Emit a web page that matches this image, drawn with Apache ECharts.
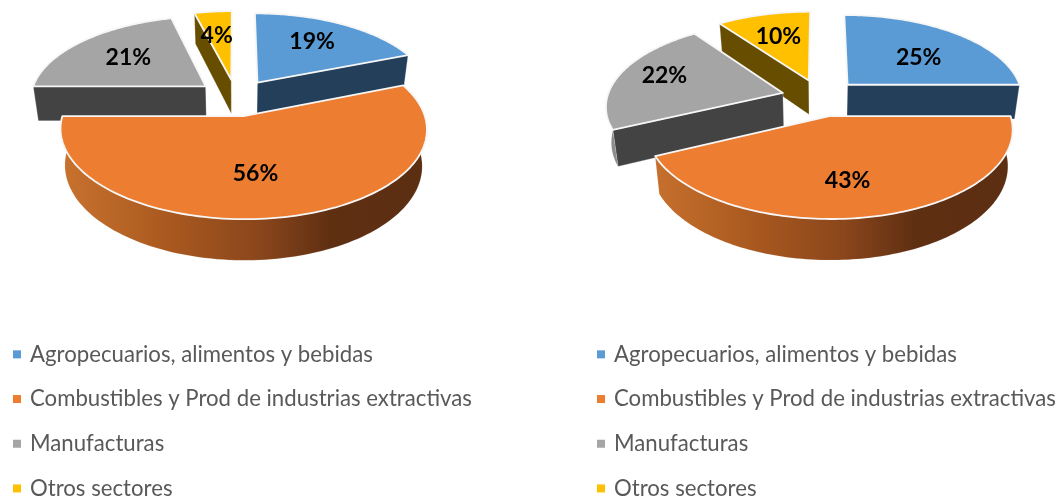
<!DOCTYPE html>
<html>
<head>
<meta charset="utf-8">
<style>html,body{margin:0;padding:0;background:#fff}#c{width:1058px;height:497px}</style>
<script src="https://cdn.jsdelivr.net/npm/echarts@6/dist/echarts.min.js"></script>
</head>
<body>
<div id="c"></div>
<script>
const categories = ['Agropecuarios, alimentos y bebidas','Combustibles y Prod de industrias extractivas','Manufacturas','Otros sectores'];
const valuesLeft = [19, 56, 21, 4];
const valuesRight = [25, 43, 22, 10];
const topColors = ['#5b9bd5','#ed7d31','#a5a5a5','#ffc000'];
const radialColors = ['#243f5a','#6b3512','#434343','#664d00'];
const outerColors = ['#243f5a','#6b3512','#8c8c8c','#664d00'];

const R = 184, EXPLODE = 41, Q = 0.45, K = 0.14, CY = 97.5, XSCALE = 0.955;
const LABEL_R = 0.55;
const nudgeLeft = [[6,-7],[-9,6],[-7,-3],[-4,-5]];
const nudgeRight = [[9,2],[-6,13],[-28,-6],[-4,-6]];

function makeProjector(cx){
  return function(x, y, low){
    const s = 1 / (1 - K * y / R);
    const X = cx + x * s * XSCALE;
    const Y = CY + Q * y * s;
    if (!low) return [X, Y];
    return [cx + (X - cx) * 0.975, Y + 35 + 0.05 * (Y - CY)];
  };
}
function sliceAngles(values, i){
  const total = values.reduce((a,b)=>a+b,0);
  let acc = 0;
  for (let j=0;j<i;j++) acc += values[j];
  const a0 = acc/total*Math.PI*2, a1 = (acc+values[i])/total*Math.PI*2;
  return [a0,a1,(a0+a1)/2];
}
function wallGradient(cx, color, i){
  if (i !== 1) return color;
  return {type:'linear',x:cx-175,y:0,x2:cx+185,y2:0,global:true,colorStops:[
    {offset:0,color:'#c9722f'},{offset:0.3,color:'#a9591f'},{offset:0.55,color:'#8a461c'},
    {offset:0.75,color:'#5f2f12'},{offset:1,color:'#5c2e12'}]};
}
function renderSlice(values, cx, i, nudge){
  return function(){
    const P = makeProjector(cx);
    const [a0,a1,mid] = sliceAngles(values,i);
    const ox = EXPLODE*Math.sin(mid), oy = -EXPLODE*Math.cos(mid);
    const n = 120;
    const top = [], frontTop = [], frontBottom = [];
    for (let t=0;t<=n;t++){
      const a = a0+(a1-a0)*t/n;
      const x = ox+R*Math.sin(a), y = oy-R*Math.cos(a);
      top.push(P(x,y,false));
      if (a >= Math.PI/2 - 1e-6 && a <= Math.PI*1.5 + 1e-6){
        frontTop.push(P(x,y,false));
        frontBottom.push(P(x,y,true));
      }
    }
    const bx = ox+R*Math.sin(a0), by = oy-R*Math.cos(a0);
    const ex = ox+R*Math.sin(a1), ey = oy-R*Math.cos(a1);
    const vT = P(ox,oy,false), vB = P(ox,oy,true);
    const edge = {stroke:'rgba(255,255,255,0.35)',lineWidth:0.8};
    const children = [];
    if (-Math.sin(a0) > 1e-6){
      children.push({type:'polygon',shape:{points:[vT,P(bx,by,false),P(bx,by,true),vB]},style:Object.assign({fill:radialColors[i]},edge)});
    }
    if (Math.sin(a1) > 1e-6){
      children.push({type:'polygon',shape:{points:[vT,P(ex,ey,false),P(ex,ey,true),vB]},style:Object.assign({fill:radialColors[i]},edge)});
    }
    if (frontTop.length > 1){
      children.push({type:'polygon',shape:{points:frontTop.concat(frontBottom.slice().reverse())},style:{fill:wallGradient(cx,outerColors[i],i),stroke:'rgba(255,255,255,0.2)',lineWidth:0.5}});
    }
    children.push({type:'polygon',shape:{points:[vT].concat(top)},style:{fill:topColors[i],stroke:'#f6f6f6',lineWidth:1.8,lineJoin:'round'}});
    const lab = P(ox+R*LABEL_R*Math.sin(mid), oy-R*LABEL_R*Math.cos(mid), false);
    children.push({type:'text',z2:100,style:{x:lab[0]+nudge[i][0],y:lab[1]+nudge[i][1],text:values[i]+'%',fill:'#000',font:'bold 23px Lato',align:'center',verticalAlign:'middle'}});
    return {type:'group',children};
  };
}
function seriesFor(values, cx, nudge){
  const order = values.map((_,i)=>i).sort((a,b)=>Math.cos(sliceAngles(values,b)[2])-Math.cos(sliceAngles(values,a)[2]));
  return order.map(i=>({
    type:'custom',name:categories[i],coordinateSystem:'none',silent:true,
    itemStyle:{color:topColors[i]},
    data:[[values[i]]],
    z:2+order.indexOf(i),
    renderItem:renderSlice(values,cx,i,nudge)
  }));
}
function legendAt(left){
  return {
    orient:'vertical',left:left,top:342,width:460,height:190,itemWidth:8,itemHeight:8,itemGap:20,icon:'rect',selectedMode:false,
    padding:0,data:categories,
    textStyle:{color:'#595959',fontFamily:'Lato',fontSize:22.2,lineHeight:24.7,padding:[0,0,0,4]}
  };
}
const chart = echarts.init(document.getElementById('c'),null,{renderer:'canvas'});
chart.setOption({
  animation:false,backgroundColor:'#fff',
  legend:[legendAt(13),legendAt(597)],
  series:seriesFor(valuesLeft,236,nudgeLeft).concat(seriesFor(valuesRight,820.5,nudgeRight))
});
</script>
</body>
</html>
